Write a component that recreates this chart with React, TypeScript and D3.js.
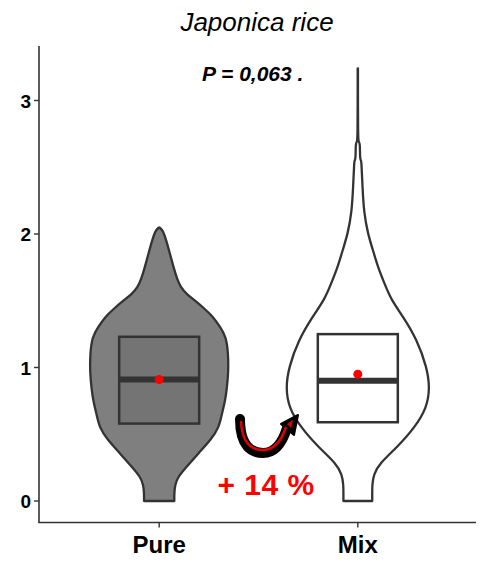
import React from "react";
import * as d3 from "d3";

const categories = ["Pure", "Mix"];
const yTicks = [0, 1, 2, 3];

// violin profiles: value and relative density (half-width share)
const pureValues = [2.05, 2.03, 1.95, 1.85, 1.75, 1.66, 1.6, 1.55, 1.5, 1.44, 1.38, 1.3, 1.23, 1.1, 0.95, 0.85, 0.76, 0.65, 0.55, 0.46, 0.36, 0.25, 0.18, 0.12, 0.06, 0];
const pureDensity = [0.0, 0.05, 0.1, 0.15, 0.2, 0.25, 0.3, 0.38, 0.5, 0.63, 0.75, 0.85, 0.93, 0.96, 0.96, 0.94, 0.92, 0.87, 0.83, 0.72, 0.55, 0.37, 0.26, 0.22, 0.21, 0.21];
const mixValues = [3.24, 2.7, 2.69, 2.68, 2.56, 2.55, 2.54, 2.35, 2.16, 2.0, 1.88, 1.75, 1.63, 1.51, 1.38, 1.21, 1.0, 0.85, 0.7, 0.55, 0.4, 0.28, 0.2, 0.12, 0.06, 0];
const mixDensity = [0.002, 0.002, 0.015, 0.03, 0.03, 0.045, 0.05, 0.065, 0.085, 0.14, 0.21, 0.28, 0.37, 0.46, 0.63, 0.82, 0.96, 1.0, 0.96, 0.79, 0.54, 0.3, 0.22, 0.2, 0.2, 0.2];

const q1 = [0.58, 0.59];
const medians = [0.91, 0.9];
const q3 = [1.23, 1.25];
const means = [0.91, 0.95];
const violinFills = ["#7f7f7f", "#ffffff"];
const boxFills = ["#747474", "#ffffff"];

const title = "Japonica rice";
const pLabel = "P = 0,063 .";
const changeLabel = "+ 14 %";

export default function App() {
  const W = 481, H = 563;
  const x = d3.scalePoint<string>().domain(categories).range([40, 477]).padding(0.6);
  const y = d3.scaleLinear().domain([0, 3]).range([501, 100.5]);
  const w = d3.scaleLinear().domain([0, 1]).range([0, 72]);
  const axisTop = 46, axisBottom = 522.5, axisLeft = 39, axisRight = 476;

  const profiles = [
    { v: pureValues, d: pureDensity },
    { v: mixValues, d: mixDensity },
  ];

  const violinPath = (i: number) => {
    const cx = x(categories[i]) as number;
    const p = profiles[i];
    const left: [number, number][] = p.v.map((v, k) => [cx - w(p.d[k]), y(v)]);
    const right: [number, number][] = p.v.map((v, k) => [cx + w(p.d[k]), y(v)]).reverse() as [number, number][];
    const gen = d3.line().curve(d3.curveBasis);
    const l = gen(left) as string;
    const r = (gen(right) as string).replace(/^M/, "L");
    return l + r + "Z";
  };

  const boxHalf = 40;

  return (
    <svg width={W} height={H} style={{ display: "block", position: "absolute", left: 0, top: 0 }}>
      <rect width={W} height={H} fill="#fff" />
      <text x={257} y={31} textAnchor="middle" fontFamily="Liberation Sans, Arial, sans-serif" fontStyle="italic" fontSize={26}>
        {title}
      </text>
      {/* axes */}
      <line x1={axisLeft} x2={axisLeft} y1={axisTop} y2={axisBottom} stroke="#333" strokeWidth={1.6} />
      <line x1={axisLeft - 0.8} x2={axisRight} y1={axisBottom} y2={axisBottom} stroke="#333" strokeWidth={1.6} />
      {yTicks.map((t) => (
        <g key={t}>
          <line x1={axisLeft - 5} x2={axisLeft} y1={y(t)} y2={y(t)} stroke="#333" strokeWidth={1.4} />
          <text x={axisLeft - 8} y={y(t) + 7} textAnchor="end" fontFamily="Liberation Sans, Arial, sans-serif" fontWeight="bold" fontSize={19}>
            {t}
          </text>
        </g>
      ))}
      {categories.map((c) => (
        <g key={c}>
          <line x1={x(c)} x2={x(c)} y1={axisBottom} y2={axisBottom + 5} stroke="#333" strokeWidth={1.4} />
          <text x={x(c)} y={553} textAnchor="middle" fontFamily="Liberation Sans, Arial, sans-serif" fontWeight="bold" fontSize={24}>
            {c}
          </text>
        </g>
      ))}
      {/* violins */}
      {categories.map((c, i) => (
        <path key={c} d={violinPath(i)} fill={violinFills[i]} stroke="#333" strokeWidth={2.3} strokeLinejoin="round" />
      ))}
      {/* boxes */}
      {categories.map((c, i) => {
        const cx = x(c) as number;
        return (
          <g key={c}>
            <rect x={cx - boxHalf} y={y(q3[i])} width={boxHalf * 2} height={y(q1[i]) - y(q3[i])} fill={boxFills[i]} stroke="#333" strokeWidth={2.5} />
            <line x1={cx - boxHalf} x2={cx + boxHalf} y1={y(medians[i])} y2={y(medians[i])} stroke="#333" strokeWidth={6} />
            <circle cx={cx} cy={y(means[i])} r={4.5} fill="#ff0000" />
          </g>
        );
      })}
      <text x={202} y={81} fontFamily="Liberation Sans, Arial, sans-serif" fontStyle="italic" fontWeight="bold" fontSize={21}>
        {pLabel}
      </text>
      {/* curved arrow */}
      <path d="M240,419 C240,447 252,453 263,453 C274,453 282,444 287,428" fill="none" stroke="#000" strokeWidth={10} strokeLinecap="round" />
      <path d="M281,424 L298,415 L294,435 Z" fill="#000" stroke="#000" strokeWidth={2} strokeLinejoin="round" />
      <path d="M241,421 C242,445 253,450 263,450 C273,450 281,442 286,427" fill="none" stroke="#e00000" strokeWidth={2.5} />
      <path d="M287,424 L293,420 L291,428 Z" fill="#e00000" />
      <text x={266} y={495} textAnchor="middle" fontFamily="Liberation Sans, Arial, sans-serif" fontWeight="bold" fontSize={30} fill="#ff0000" letterSpacing={0.5}>
        {changeLabel}
      </text>
    </svg>
  );
}
